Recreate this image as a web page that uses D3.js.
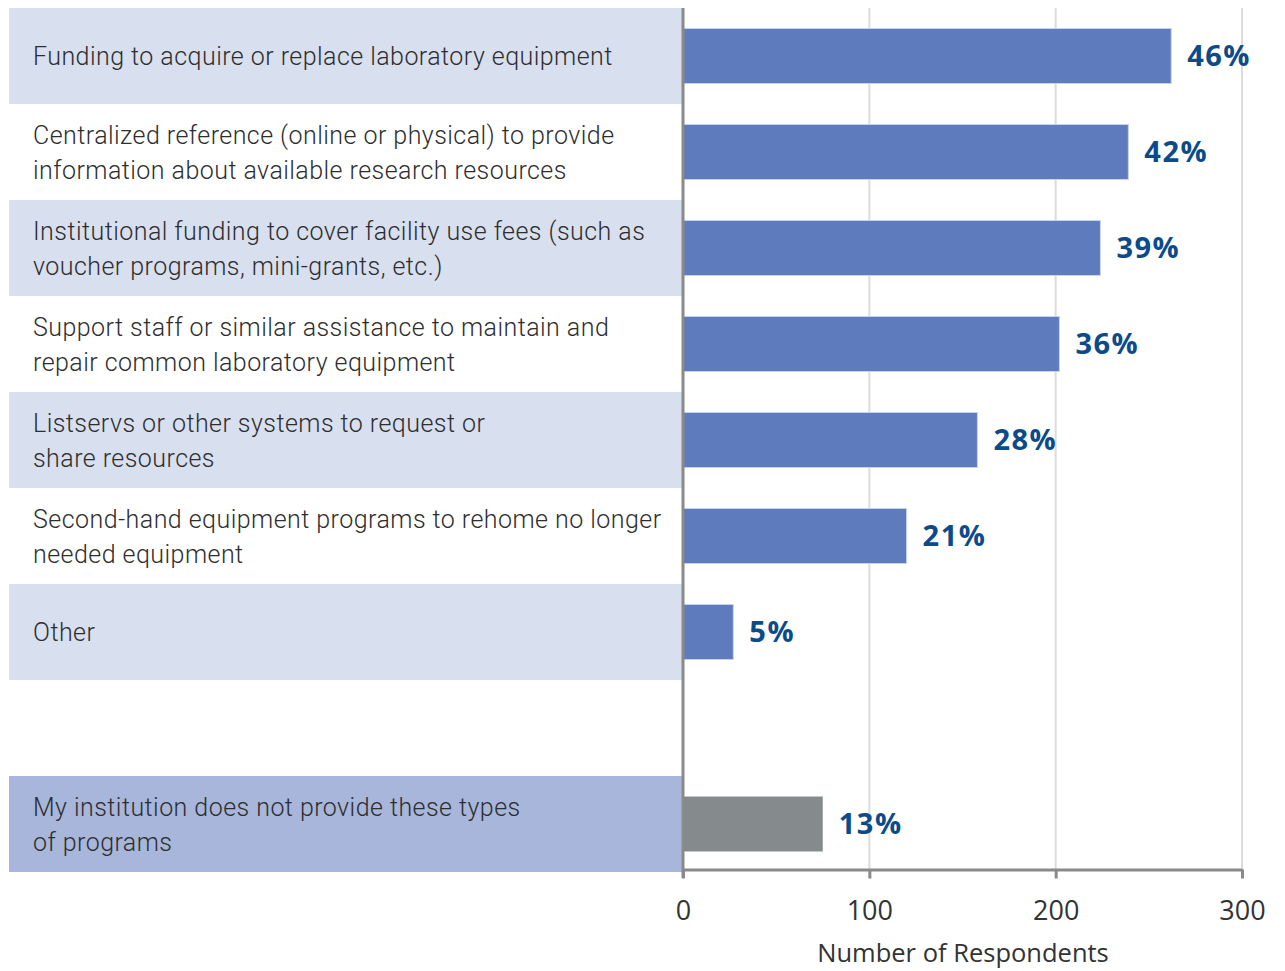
<html>
<head>
<style>
  body { margin: 0; background: #fff; }
  svg { display: block; }
</style>
</head>
<body>
<svg id="chart" width="1285" height="971"></svg>
<script src="https://d3js.org/d3.v7.min.js"></script>
<script>
    // data
    let categories = [
        ["Funding to acquire or replace laboratory equipment"],
        ["Centralized reference (online or physical) to provide", "information about available research resources"],
        ["Institutional funding to cover facility use fees (such as", "voucher programs, mini-grants, etc.)"],
        ["Support staff or similar assistance to maintain and", "repair common laboratory equipment"],
        ["Listservs or other systems to request or", "share resources"],
        ["Second-hand equipment programs to rehome no longer", "needed equipment"],
        ["Other"],
        ["My institution does not provide these types", "of programs"]
    ]
    let respondents = [262, 239, 224, 202, 158, 120, 27, 75]
    let percents = ["46%", "42%", "39%", "36%", "28%", "21%", "5%", "13%"]
    let tickValues = [0, 100, 200, 300]
    let axisTitle = "Number of Respondents"

    let keys = categories.map((c, i) => "c" + i)
    let data = categories.map((c, i) => ({ key: keys[i], lines: c, value: respondents[i], pct: percents[i], last: i === categories.length - 1 }))

    let svg = d3.select("#chart")

    let x = d3.scaleLinear().domain([0, 300]).range([683, 1242])
    // a blank spacer row sits before the last category
    let y = d3.scaleBand()
        .domain(keys.slice(0, 7).concat(["gap"], keys.slice(7)))
        .range([8, 872])
        .paddingInner(0)

    // label backgrounds
    svg.append("g").selectAll("rect")
        .data(data.filter((d, i) => i % 2 === 0 || d.last))
        .enter().append("rect")
        .attr("x", 9)
        .attr("y", d => y(d.key))
        .attr("width", 683 - 9)
        .attr("height", y.bandwidth())
        .attr("fill", d => d.last ? "#a7b6da" : "#d8dfee")

    // gridlines
    svg.append("g").selectAll("line")
        .data(tickValues.slice(1))
        .enter().append("line")
        .attr("x1", d => x(d)).attr("x2", d => x(d))
        .attr("y1", 8).attr("y2", 870)
        .attr("stroke", "#dcdcdc")
        .attr("stroke-width", 2)

    // bars
    let barPad = 20.5
    svg.append("g").selectAll("rect")
        .data(data)
        .enter().append("rect")
        .attr("x", x(0))
        .attr("y", d => y(d.key) + barPad)
        .attr("width", d => x(d.value) - x(0))
        .attr("height", y.bandwidth() - 2 * barPad)
        .attr("fill", d => d.last ? "#858a8d" : "#5e7bbd")
        .attr("stroke", d => d.last ? "none" : "#c9d3ea")
        .attr("stroke-width", 1)

    // percent labels
    svg.append("g").selectAll("text")
        .data(data)
        .enter().append("text")
        .attr("x", d => x(d.value) + 16)
        .attr("y", d => y(d.key) + y.bandwidth() / 2 + 10)
        .attr("font-family", "'Open Sans', sans-serif")
        .attr("font-weight", 700)
        .attr("font-size", 29)
        .attr("letter-spacing", 1.5)
        .attr("fill", "#0b4a8b")
        .text(d => d.pct)

    // category labels
    let labels = svg.append("g").selectAll("text")
        .data(data)
        .enter().append("text")
        .attr("font-family", "Roboto, 'Liberation Sans', sans-serif")
        .attr("font-weight", 300)
        .attr("font-size", 25)
        .attr("letter-spacing", 0.45)
        .attr("fill", "#2e2e2e")
    labels.selectAll("tspan")
        .data(d => d.lines.map((t, j) => ({ t: t, j: j, n: d.lines.length, key: d.key })))
        .enter().append("tspan")
        .attr("x", 33)
        .attr("y", d => y(d.key) + y.bandwidth() / 2 + 9 + (d.j - (d.n - 1) / 2) * 35)
        .text(d => d.t)

    // left axis line
    svg.append("line")
        .attr("x1", x(0)).attr("x2", x(0))
        .attr("y1", 8).attr("y2", 878)
        .attr("stroke", "#8a8a8a")
        .attr("stroke-width", 3)

    // bottom axis
    let xAxis = d3.axisBottom(x).tickValues(tickValues).tickSize(9).tickSizeOuter(0).tickPadding(22)
    let gx = svg.append("g")
        .attr("transform", "translate(0,869.5)")
        .call(xAxis)
    gx.select(".domain").attr("stroke", "#8a8a8a").attr("stroke-width", 3)
    gx.selectAll(".tick line").attr("stroke", "#8a8a8a").attr("stroke-width", 3)
    gx.selectAll(".tick text")
        .attr("font-family", "'Open Sans', sans-serif")
        .attr("font-size", 27)
        .attr("fill", "#333")

    svg.append("text")
        .attr("x", 963)
        .attr("y", 962)
        .attr("text-anchor", "middle")
        .attr("font-family", "'Open Sans', sans-serif")
        .attr("font-size", 25.5)
        .attr("fill", "#333")
        .text(axisTitle)
</script>
</body>
</html>
